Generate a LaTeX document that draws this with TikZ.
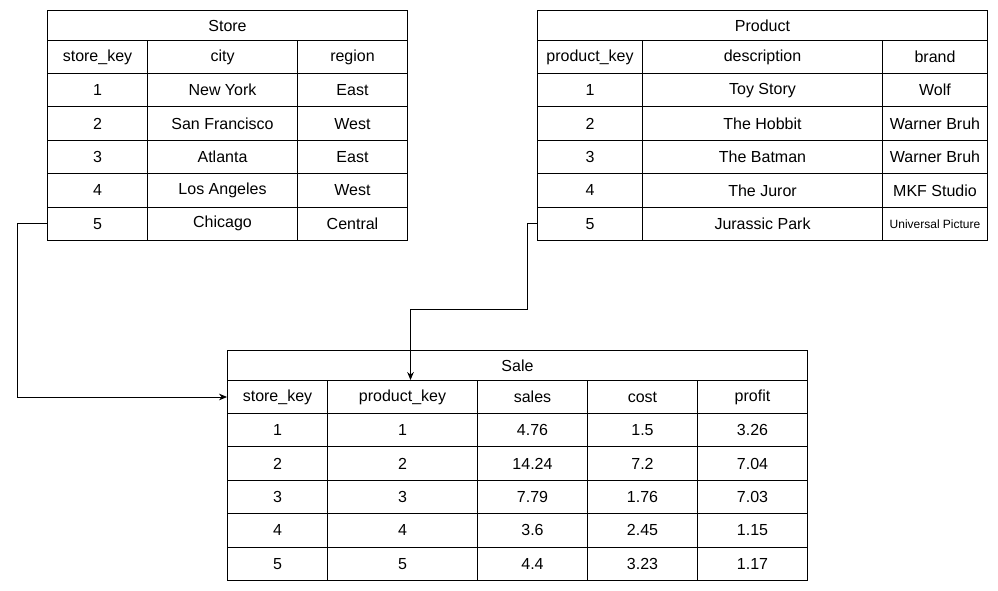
\documentclass[tikz,border=0pt]{standalone}
\usepackage{fontspec}
\setmainfont{Liberation Sans}
\usetikzlibrary{arrows.meta}
\tikzset{
  cell/.style={draw, anchor=north west, inner sep=0pt, minimum height=25.05pt, font=\fontsize{12}{14}\selectfont},
  title/.style={cell, minimum height=22.5pt},
  cw/.style={minimum width=#1*0.75pt},
  link/.style={-{Stealth[length=6pt,width=5pt]}, line width=0.6pt}
}
\begin{document}
\begin{tikzpicture}[x=0.75pt, y=-0.75pt, line width=0.75pt]
  \useasboundingbox (0,0) rectangle (998,591);
  % Store
  \node[title, cw=360] (stitle) at (47,10) {Store};
  \node[cell, cw=100, minimum height=24.75pt] (sh1) at (47,40) {store\_key};
  \node[cell, cw=150, minimum height=24.75pt] (sh2) at (147,40) {city};
  \node[cell, cw=110, minimum height=24.75pt] (sh3) at (297,40) {region};
  \foreach \k/\c/\r [count=\i] in {1/New York/East,2/San Francisco/West,3/Atlanta/East,4/Los Angeles/West,5/Chicago/Central}{
    \node[cell, cw=100] (s\i a) at (47,{73+(\i-1)*33.4}) {\k};
    \node[cell, cw=150] (s\i b) at (147,{73+(\i-1)*33.4}) {\c};
    \node[cell, cw=110] (s\i c) at (297,{73+(\i-1)*33.4}) {\r};
  }
  % Product
  \node[title, cw=450] (ptitle) at (537,10) {Product};
  \node[cell, cw=105, minimum height=24.75pt] (ph1) at (537,40) {product\_key};
  \node[cell, cw=240, minimum height=24.75pt] (ph2) at (642,40) {description};
  \node[cell, cw=105, minimum height=24.75pt] (ph3) at (882,40) {brand};
  \foreach \k/\d/\b [count=\i] in {1/Toy Story/Wolf,2/The Hobbit/Warner Bruh,3/The Batman/Warner Bruh,4/The Juror/MKF Studio}{
    \node[cell, cw=105] (p\i a) at (537,{73+(\i-1)*33.4}) {\k};
    \node[cell, cw=240] (p\i b) at (642,{73+(\i-1)*33.4}) {\d};
    \node[cell, cw=105] (p\i c) at (882,{73+(\i-1)*33.4}) {\b};
  }
  \node[cell, cw=105] (p5a) at (537,206.6) {5};
  \node[cell, cw=240] (p5b) at (642,206.6) {Jurassic Park};
  \node[cell, cw=105, font=\fontsize{9}{11}\selectfont] (p5c) at (882,206.6) {Universal Picture};
  % Sale
  \node[title, cw=580] (ltitle) at (227,350) {Sale};
  \foreach \h/\x/\w [count=\j] in {store\_key/227/100,product\_key/327/150,sales/477/110,cost/587/110,profit/697/110}{
    \node[cell, cw=\w, minimum height=24.75pt] (lh\j) at (\x,380) {\h};
  }
  \foreach \a/\b/\c/\d/\e [count=\i] in {1/1/4.76/1.5/3.26,2/2/14.24/7.2/7.04,3/3/7.79/1.76/7.03,4/4/3.6/2.45/1.15,5/5/4.4/3.23/1.17}{
    \node[cell, cw=100] (l\i a) at (227,{413+(\i-1)*33.4}) {\a};
    \node[cell, cw=150] (l\i b) at (327,{413+(\i-1)*33.4}) {\b};
    \node[cell, cw=110] (l\i c) at (477,{413+(\i-1)*33.4}) {\c};
    \node[cell, cw=110] (l\i d) at (587,{413+(\i-1)*33.4}) {\d};
    \node[cell, cw=110] (l\i e) at (697,{413+(\i-1)*33.4}) {\e};
  }
  % links
  \draw[link] (s5a.west) -- ++(-30,0) |- (lh1.west);
  \draw[link] (p5a.west) -- ++(-10,0) -- ++(0,86) -| ([xshift=6pt]lh2.north);
\end{tikzpicture}
\end{document}
